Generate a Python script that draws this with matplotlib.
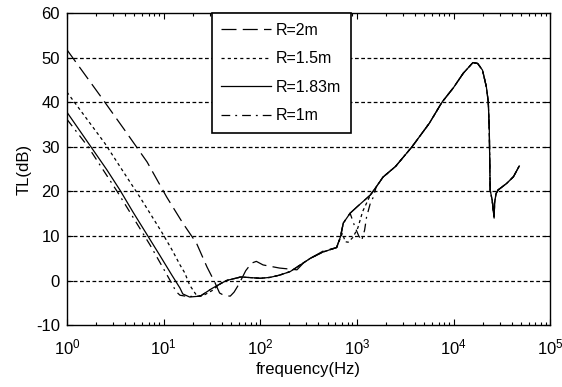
import numpy as np
import matplotlib
matplotlib.use('Agg')
import matplotlib.pyplot as plt

plt.rcParams['font.family'] = ['Liberation Sans', 'DejaVu Sans']
plt.rcParams['mathtext.fontset'] = 'custom'
plt.rcParams['mathtext.rm'] = 'Liberation Sans'
plt.rcParams['mathtext.it'] = 'Liberation Sans:italic'
plt.rcParams['axes.unicode_minus'] = False

# shared high-frequency part (all four curves coincide there)
f_hi = [1585, 1862, 2512, 3715, 5623, 7586, 10000, 12590, 15850, 17780, 19950,
        21880, 22900, 23440, 23930, 25120, 26300, 26600, 27540, 28840, 35480,
        41690, 47860]
tl_hi = [21.0, 23.2, 25.6, 30.0, 35.3, 40.0, 43.3, 46.5, 48.9, 48.7, 47.2,
         43.4, 40.0, 33.7, 20.3, 18.0, 14.0, 17.5, 19.5, 20.3, 21.8,
         23.3, 25.7]

# R = 2m (long dash)
f_r2 = [1, 2.19, 3.98, 6.76, 10.8, 15.8, 21.9, 28.2, 33.9, 38.0, 42.7, 49.0,
        53.7, 60.3, 70.8, 81.3, 91.2, 107, 158, 240, 282, 331, 447, 617, 676,
        724, 851, 1000, 1380]
tl_r2 = [51.8, 41.6, 33.7, 26.6, 18.7, 12.9, 8.4, 3.0, -0.4, -2.8, -3.4, -3.5,
         -2.6, -0.8, 2.2, 3.9, 4.3, 3.5, 2.8, 2.4, 4.0, 5.0, 6.6, 7.4, 9.8,
         12.9, 15.1, 16.5, 19.2]

# R = 1.5m (dotted)
f_r15 = [1, 2.47, 4.17, 5.7, 7.24, 9.55, 12.3, 14.8, 16.6, 18.6, 21.9, 25.1,
         31.6, 39.8, 44.7, 63.1, 100, 126, 158, 204, 331, 447, 617, 708, 759,
         813, 912, 1023, 1148, 1380]
tl_r15 = [42.3, 30.8, 23.2, 18.7, 15.1, 10.9, 6.8, 3.5, 1.7, -1.0, -3.3, -3.5,
          -2.3, -0.5, 0.0, 0.8, 0.5, 0.7, 1.2, 2.0, 5.0, 6.4, 7.4, 10.6, 8.7,
          8.6, 9.7, 11.8, 15.5, 19.2]

# R = 1.83m (solid)
f_r183 = [1, 2.6, 3.54, 4.82, 6.61, 9.12, 12.2, 14.8, 15.8, 18.6, 24.0, 31.6,
          44.7, 63.1, 100, 126, 158, 204, 331, 447, 617, 676, 724, 851, 1000,
          1380]
tl_r183 = [37.8, 24.8, 20.3, 15.4, 10.6, 5.7, 1.2, -1.7, -3.0, -3.7, -3.5, -1.8,
           0.0, 0.8, 0.5, 0.7, 1.2, 2.0, 5.0, 6.4, 7.4, 9.8, 12.9, 15.1, 16.5,
           19.2]

# R = 1m (dash-dot)
f_r1 = [1, 1.66, 3.31, 4.47, 7.24, 10.2, 11.7, 13.5, 14.8, 17.8, 24.0, 31.6,
        44.7, 63.1, 100, 126, 158, 204, 331, 447, 617, 676, 724, 851, 955,
        1047, 1122, 1202, 1259, 1380, 1479]
tl_r1 = [36.2, 30.0, 20.0, 15.4, 8.0, 2.3, 0.0, -2.5, -3.3, -3.6, -3.5, -1.8,
         0.0, 0.8, 0.5, 0.7, 1.2, 2.0, 5.0, 6.4, 7.4, 9.8, 12.9, 15.1, 12.0,
         10.0, 9.0, 11.3, 14.2, 17.4, 18.7]

labels = ['R=2m', 'R=1.5m', 'R=1.83m', 'R=1m']
styles = [(0, (12, 5)), (0, (2.5, 2.5)), '-', (0, (7, 4, 1.5, 4))]
curves = [(f_r2, tl_r2), (f_r15, tl_r15), (f_r183, tl_r183), (f_r1, tl_r1)]

fig, ax = plt.subplots(figsize=(5.62, 3.87), dpi=100)
fig.subplots_adjust(left=0.119, right=0.979, bottom=0.160, top=0.966)

for (f, tl), ls, lab in zip(curves, styles, labels):
    ax.plot(np.r_[f, f_hi], np.r_[tl, tl_hi], color='black', lw=0.9,
            linestyle=ls, label=lab)

ax.set_xscale('log')
ax.set_xlim(1, 1e5)
ax.set_ylim(-10, 60)
ax.set_yticks(np.arange(-10, 61, 10))

for y in range(0, 60, 10):
    ax.axhline(y, color='black', lw=0.9, linestyle=(0, (3, 2)), zorder=0)

ax.tick_params(which='both', direction='in', top=True, right=True,
               labelsize=12, width=0.8)
ax.tick_params(which='major', length=4.5)
ax.tick_params(which='minor', length=2.5)
ax.tick_params(axis='x', pad=9)
ax.tick_params(axis='y', pad=5)
for s in ax.spines.values():
    s.set_linewidth(1.0)

ax.set_xlabel('frequency(Hz)', fontsize=12, labelpad=3)
ax.set_ylabel('TL(dB)', fontsize=12, labelpad=3)

leg = ax.legend(loc='upper left', bbox_to_anchor=(0.30, 1.0), borderaxespad=0,
                fancybox=False, edgecolor='black', framealpha=1, fontsize=11.5,
                handlelength=3.1, handletextpad=0.3, labelspacing=0.85,
                borderpad=0.6)
leg.get_frame().set_linewidth(1.2)

plt.savefig('out.png', dpi=100)
